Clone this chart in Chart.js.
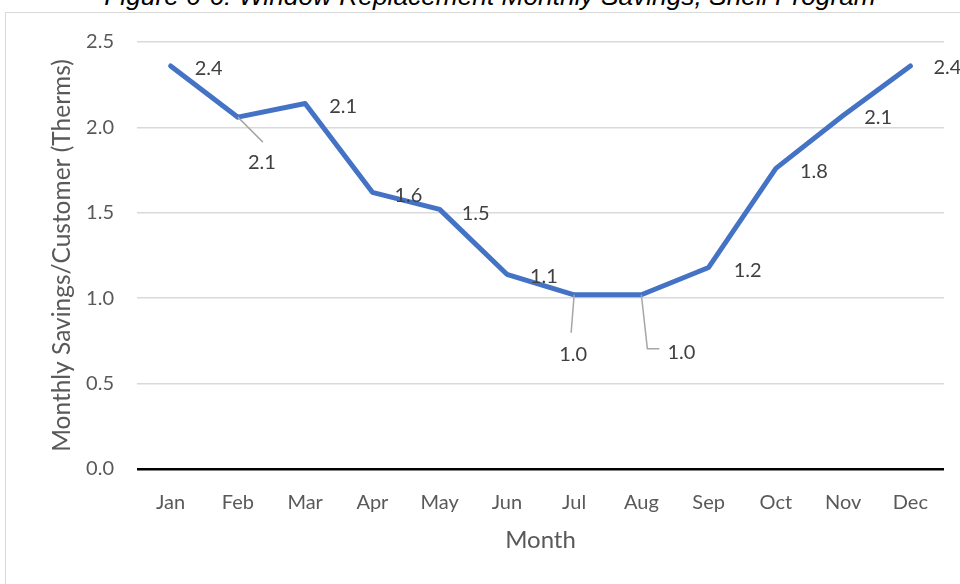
<!DOCTYPE html>
<html>
<head>
<meta charset="utf-8">
<title>Window Replacement Monthly Savings</title>
<script src="https://cdn.jsdelivr.net/npm/chart.js@4.4.0/dist/chart.umd.min.js"></script>
<style>
    html, body { margin: 0; padding: 0; background: #fff; overflow: hidden; }
    #page { position: relative; width: 960px; height: 584px; overflow: hidden; }
    #caption {
        position: absolute; left: 0; top: -19px; width: 980px;
        text-align: center; white-space: nowrap;
        font: italic 26.3px/30px "Liberation Sans", Arial, sans-serif; color: #000;
    }
    #frame { position: absolute; left: 5px; top: 12px; width: 1200px; height: 900px; border: 1px solid #d9d9d9; }
    #savings-chart { position: absolute; left: 0; top: 0; }
</style>
</head>
<body>
<div id="page">
    <div id="caption">Figure 6-6: Window Replacement Monthly Savings, Shell Program</div>
    <div id="frame"></div>
    <canvas id="savings-chart" width="960" height="584"></canvas>
</div>
<script>
// monthly savings per customer, therms
const months = ['Jan', 'Feb', 'Mar', 'Apr', 'May', 'Jun', 'Jul', 'Aug', 'Sep', 'Oct', 'Nov', 'Dec']
const savings = [2.36, 2.06, 2.14, 1.62, 1.52, 1.14, 1.02, 1.02, 1.18, 1.76, 2.07, 2.36]
const yTicks = [0, 0.5, 1.0, 1.5, 2.0, 2.5]

const FONT = 'Lato'
const TEXT_GREY = '#595959'

// where each value label sits relative to its point, and leader lines for the ones pushed away
const labelOffsets = [[38, 3], [24, 45], [38, 3], [36, 3], [36, 4], [37, 2], [-1, 60], [40, 58], [39, 3], [38, 3], [35, 2], [37, 2]]
const leaders = {
    1: [[0, 0], [25, 25]],
    6: [[0, 0], [-3, 38]],
    7: [[0, 0], [6, 54], [18, 54]]
}

const valueLabels = {
    id: 'valueLabels',
    afterDatasetsDraw(chart) {
        const ctx = chart.ctx
        const meta = chart.getDatasetMeta(0)
        ctx.save()
        ctx.strokeStyle = '#a6a6a6'
        ctx.lineWidth = 1.5
        Object.keys(leaders).forEach(i => {
            const pt = meta.data[i]
            ctx.beginPath()
            leaders[i].forEach(([dx, dy], k) => {
                if (k === 0) ctx.moveTo(pt.x + dx, pt.y + dy)
                else ctx.lineTo(pt.x + dx, pt.y + dy)
            })
            ctx.stroke()
        })
        ctx.font = '20px ' + FONT
        ctx.fillStyle = '#404040'
        ctx.textAlign = 'center'
        ctx.textBaseline = 'middle'
        meta.data.forEach((pt, i) => {
            const [dx, dy] = labelOffsets[i]
            ctx.fillText(savings[i].toFixed(1), pt.x + dx, pt.y + dy)
        })
        ctx.restore()
    }
}

const config = {
    type: 'line',
    data: {
        labels: months,
        datasets: [{
            label: 'Monthly Savings',
            data: savings,
            borderColor: '#4472C4',
            borderWidth: 5,
            borderJoinStyle: 'round',
            borderCapStyle: 'round',
            pointRadius: 0,
            tension: 0,
            fill: false
        }]
    },
    options: {
        responsive: false,
        animation: false,
        layout: { padding: { top: 42, right: 16, bottom: 0, left: 0 } },
        plugins: {
            legend: { display: false },
            tooltip: { enabled: false }
        },
        scales: {
            x: {
                offset: true,
                grid: { display: false, drawTicks: false },
                border: { display: false },
                ticks: { color: TEXT_GREY, padding: 22, font: { family: FONT, size: 20 } },
                title: {
                    display: true, text: 'Month', color: TEXT_GREY,
                    font: { family: FONT, size: 24 }, padding: { top: 0, bottom: 29 }
                },
                afterFit(scale) { scale.height = 115 }
            },
            y: {
                min: 0,
                max: 2.5,
                afterBuildTicks(scale) { scale.ticks = yTicks.map(v => ({ value: v })) },
                grid: {
                    drawTicks: false,
                    color: c => c.tick && c.tick.value === 0 ? '#000' : '#d9d9d9',
                    lineWidth: c => c.tick && c.tick.value === 0 ? 2.5 : 1.5
                },
                border: { display: false },
                ticks: {
                    color: TEXT_GREY, padding: 23,
                    font: { family: FONT, size: 20 },
                    callback: v => Number(v).toFixed(1)
                },
                title: {
                    display: true, text: 'Monthly Savings/Customer (Therms)', color: TEXT_GREY,
                    font: { family: FONT, size: 24.5 }, padding: { top: 47, bottom: 0 }
                },
                afterFit(scale) { scale.width = 137 }
            }
        }
    },
    plugins: [valueLabels]
}

new Chart(document.querySelector('#savings-chart'), config)
</script>
</body>
</html>
